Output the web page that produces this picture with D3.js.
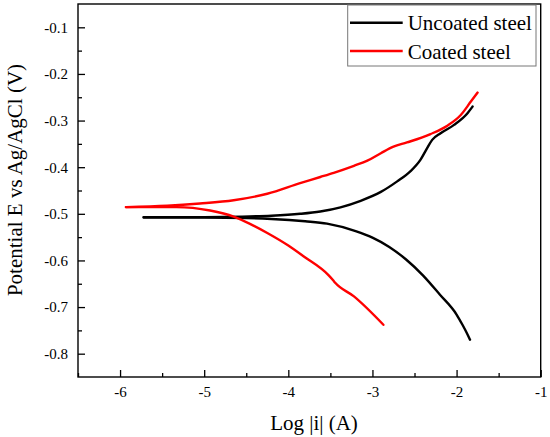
<!DOCTYPE html>
<html>
<head>
<meta charset="utf-8">
<script src="https://cdn.jsdelivr.net/npm/d3@7.9.0/dist/d3.min.js"></script>
<style>
  html, body { margin: 0; padding: 0; background: #fff; }
  svg { display: block; font-family: "Liberation Serif", "DejaVu Serif", serif; }
  .tick text { font-family: "Liberation Serif", "DejaVu Serif", serif; font-size: 15px; }
</style>
</head>
<body>
<svg id="chart" width="550" height="437"></svg>
<script>
// ---------- data ----------
const xTicks = [-6, -5, -4, -3, -2, -1];
const yTicks = [-0.8, -0.7, -0.6, -0.5, -0.4, -0.3, -0.2, -0.1];
const seriesNames = ['Uncoated steel', 'Coated steel'];
const seriesColors = ['#000000', '#ff0000'];

// uncoated steel, anodic branch (log i, E)
const uncoatedAnodicX = [-5.72, -5.0, -4.55, -4.2, -3.86, -3.62, -3.38, -3.14, -2.9, -2.71, -2.55, -2.43, -2.35, -2.29, -2.19, -2.03, -1.87, -1.81];
const uncoatedAnodicY = [-0.507, -0.507, -0.506, -0.504, -0.500, -0.495, -0.486, -0.472, -0.453, -0.431, -0.409, -0.3843, -0.3592, -0.3414, -0.3271, -0.3093, -0.2842, -0.270];
// uncoated steel, cathodic branch
const uncoatedCathodicX = [-5.72, -5.0, -4.5, -4.2, -3.8, -3.54, -3.2, -3.0, -2.8, -2.6, -2.4, -2.2, -2.0, -1.93, -1.88, -1.84];
const uncoatedCathodicY = [-0.508, -0.508, -0.509, -0.511, -0.516, -0.521, -0.537, -0.551, -0.571, -0.598, -0.632, -0.673, -0.716, -0.738, -0.755, -0.770];

// coated steel, anodic branch
const coatedAnodicX = [-5.93, -5.44, -5.05, -4.65, -4.25, -3.86, -3.62, -3.46, -3.22, -3.06, -2.9, -2.75, -2.59, -2.31, -2.11, -1.95, -1.83, -1.75];
const coatedAnodicY = [-0.4856, -0.4828, -0.478, -0.471, -0.457, -0.4342, -0.421, -0.412, -0.397, -0.386, -0.370, -0.356, -0.347, -0.329, -0.311, -0.288, -0.2593, -0.240];
// coated steel, cathodic branch
const coatedCathodicX = [-5.93, -5.33, -4.93, -4.65, -4.45, -4.25, -4.0, -3.82, -3.52, -3.47, -3.44, -3.22, -2.87];
const coatedCathodicY = [-0.4856, -0.4856, -0.4929, -0.5058, -0.522, -0.541, -0.568, -0.591, -0.632, -0.642, -0.6485, -0.6772, -0.738];

// ---------- layout ----------
const svg = d3.select('#chart');
const margin = { left: 78, top: 4, right: 550 - 540.7, bottom: 437 - 377 };
const W = 550 - margin.left - margin.right;
const H = 437 - margin.top - margin.bottom;

const x = d3.scaleLinear().domain([-6.5, -1]).range([0, W]);
const y = d3.scaleLinear().domain([-0.85, -0.05]).range([H, 0]);

const g = svg.append('g').attr('transform', `translate(${margin.left},${margin.top})`);

// minor ticks (halfway between majors)
const xMinor = d3.range(-6.5, -1, 0.5).filter(v => !xTicks.includes(v));
const yMinor = yTicks.map(v => v - 0.05).concat([-0.05]).filter(v => v > -0.85 && v < -0.05);

function styleAxis(sel) {
  sel.attr('font-family', null).attr('font-size', null);
  sel.select('.domain').remove();
  sel.selectAll('line').attr('stroke', '#000').attr('stroke-width', 1.3);
  sel.selectAll('text').attr('fill', '#000')
    .text(function () { return this.textContent.replace('\u2212', '-'); });
}

g.append('g').attr('transform', `translate(0,${H})`)
  .call(d3.axisBottom(x).tickValues(xTicks).tickSize(-7).tickPadding(9).tickFormat(d3.format('d')))
  .call(styleAxis);
g.append('g').attr('transform', `translate(0,${H})`)
  .call(d3.axisBottom(x).tickValues(xMinor).tickSize(-4).tickFormat(''))
  .call(styleAxis);
g.append('g')
  .call(d3.axisLeft(y).tickValues(yTicks).tickSize(-7).tickPadding(10).tickFormat(d3.format('.1f')))
  .call(styleAxis);
g.append('g')
  .call(d3.axisLeft(y).tickValues(yMinor).tickSize(-4).tickFormat(''))
  .call(styleAxis);

// frame
g.append('rect').attr('x', 0).attr('y', 0).attr('width', W).attr('height', H)
  .attr('fill', 'none').attr('stroke', '#000').attr('stroke-width', 1.4);

// curves
const line = d3.line().x(d => x(d[0])).y(d => y(d[1])).curve(d3.curveMonotoneX);
const branches = [
  { xs: uncoatedAnodicX, ys: uncoatedAnodicY, c: 0 },
  { xs: uncoatedCathodicX, ys: uncoatedCathodicY, c: 0 },
  { xs: coatedAnodicX, ys: coatedAnodicY, c: 1 },
  { xs: coatedCathodicX, ys: coatedCathodicY, c: 1 }
];
branches.forEach(b => {
  g.append('path')
    .datum(b.xs.map((v, i) => [v, b.ys[i]]))
    .attr('d', line)
    .attr('fill', 'none')
    .attr('stroke', seriesColors[b.c])
    .attr('stroke-width', 2.4)
    .attr('stroke-linecap', 'round')
    .attr('stroke-linejoin', 'round');
});

// legend
const lg = svg.append('g').attr('transform', 'translate(347.7,5)');
lg.append('rect').attr('width', 188.3).attr('height', 61)
  .attr('fill', '#fff').attr('stroke', '#777').attr('stroke-width', 1);
seriesNames.forEach((name, i) => {
  const ly = 17.7 + i * 28.3;
  lg.append('line').attr('x1', 2.3).attr('x2', 55).attr('y1', ly).attr('y2', ly)
    .attr('stroke', seriesColors[i]).attr('stroke-width', 2.4);
  lg.append('text').attr('x', 60).attr('y', ly + 7.5)
    .attr('font-size', 21).attr('fill', '#000').text(name);
});

// axis titles
svg.append('text')
  .attr('x', 314).attr('y', 430)
  .attr('text-anchor', 'middle').attr('font-size', 21)
  .text('Log |i| (A)');
svg.append('text')
  .attr('transform', 'translate(22,180) rotate(-90)')
  .attr('text-anchor', 'middle').attr('font-size', 21)
  .text('Potential E vs Ag/AgCl (V)');
</script>
</body>
</html>
